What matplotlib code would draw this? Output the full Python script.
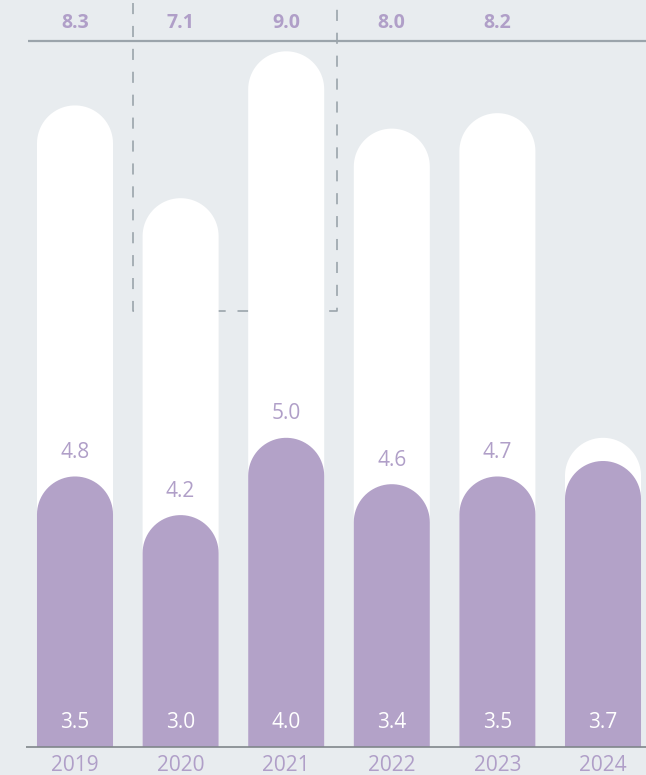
import numpy as np
import matplotlib.pyplot as plt
from matplotlib.path import Path
from matplotlib.patches import PathPatch

# Data
years = ['2019', '2020', '2021', '2022', '2023', '2024']
total_vals = [8.3, 7.1, 9.0, 8.0, 8.2, 4.0]       # white bars
base_vals = [3.5, 3.0, 4.0, 3.4, 3.5, 3.7]        # purple bars
mid_labels = ['4.8', '4.2', '5.0', '4.6', '4.7', '']
top_labels = ['8.3', '7.1', '9.0', '8.0', '8.2']

# Colours
bg = '#e8ecef'
purple = '#b3a2c8'
text_purple = '#b09fc8'
grey = '#9ba4ab'

plt.rcParams['font.family'] = ['Open Sans', 'DejaVu Sans']
plt.rcParams['lines.scale_dashes'] = False

W, H = 646, 775
fig = plt.figure(figsize=(W / 100, H / 100), dpi=100, facecolor=bg)
ax = fig.add_axes([0, 0, 1, 1])
ax.set_facecolor(bg)
ax.set_axis_off()

# pixel mapping: bar spacing 105.6 px, 77.3 px per unit, baseline at 747 px
px_x, px_y = 105.6, 77.3
x0 = 75 / px_x
y0 = (H - 747) / px_y
ax.set_xlim(-x0, (W - 75) / px_x)
ax.set_ylim(-y0, 747 / px_y)

bar_w = 0.72
rx = bar_w / 2
ry = rx * px_x / px_y


def rounded_bar(x, h, color, z):
    t = np.linspace(np.pi, 0, 40)
    cy = h - ry
    xs = [x - rx, x - rx] + list(x + rx * np.cos(t)) + [x + rx, x - rx]
    ys = [0, cy] + list(cy + ry * np.sin(t)) + [0, 0]
    verts = list(zip(xs, ys))
    codes = [Path.MOVETO] + [Path.LINETO] * (len(verts) - 2) + [Path.CLOSEPOLY]
    ax.add_patch(PathPatch(Path(verts, codes), facecolor=color,
                           edgecolor='none', zorder=z))


fs = 15
xpos = np.arange(len(years))
for i in xpos:
    rounded_bar(i, total_vals[i], 'white', 3)
    rounded_bar(i, base_vals[i], purple, 4)
    ax.text(i, 0.32, f'{base_vals[i]:.1f}', color='white', fontsize=fs,
            ha='center', va='center', zorder=5)
    ax.text(i, -0.24, years[i], color=text_purple, fontsize=fs,
            ha='center', va='center')
    if mid_labels[i]:
        ax.text(i, base_vals[i] + 0.31, mid_labels[i], color=text_purple,
                fontsize=fs, ha='center', va='center', zorder=5)

# dashed box behind the bars
top_y = 747 / px_y
box_y = (747 - 311) / px_y
bx1, bx2 = (133 - 75) / px_x, (337 - 75) / px_x
ax.plot([bx1, bx1, bx2, bx2], [top_y - 0.04, box_y, box_y, top_y - 0.04],
        color=grey, lw=1.2, linestyle=(0, (8, 8.5)), zorder=2)

# top strip with labels
line_y = (747 - 41) / px_y
ax.plot([(28 - 75) / px_x, (W - 75) / px_x], [line_y, line_y],
        color=grey, lw=1.6, zorder=2, solid_capstyle='butt')
for j, lab in enumerate(top_labels):
    ax.text(j, (747 - 23) / px_y, lab, color=text_purple,
            fontsize=fs - 1, fontweight='bold', ha='center', va='center')

# baseline
ax.plot([(26 - 75) / px_x, (W - 75) / px_x], [0, 0], color='#80868b',
        lw=1.2, zorder=6, solid_capstyle='butt')

fig.savefig('out.png', dpi=100, facecolor=bg)
